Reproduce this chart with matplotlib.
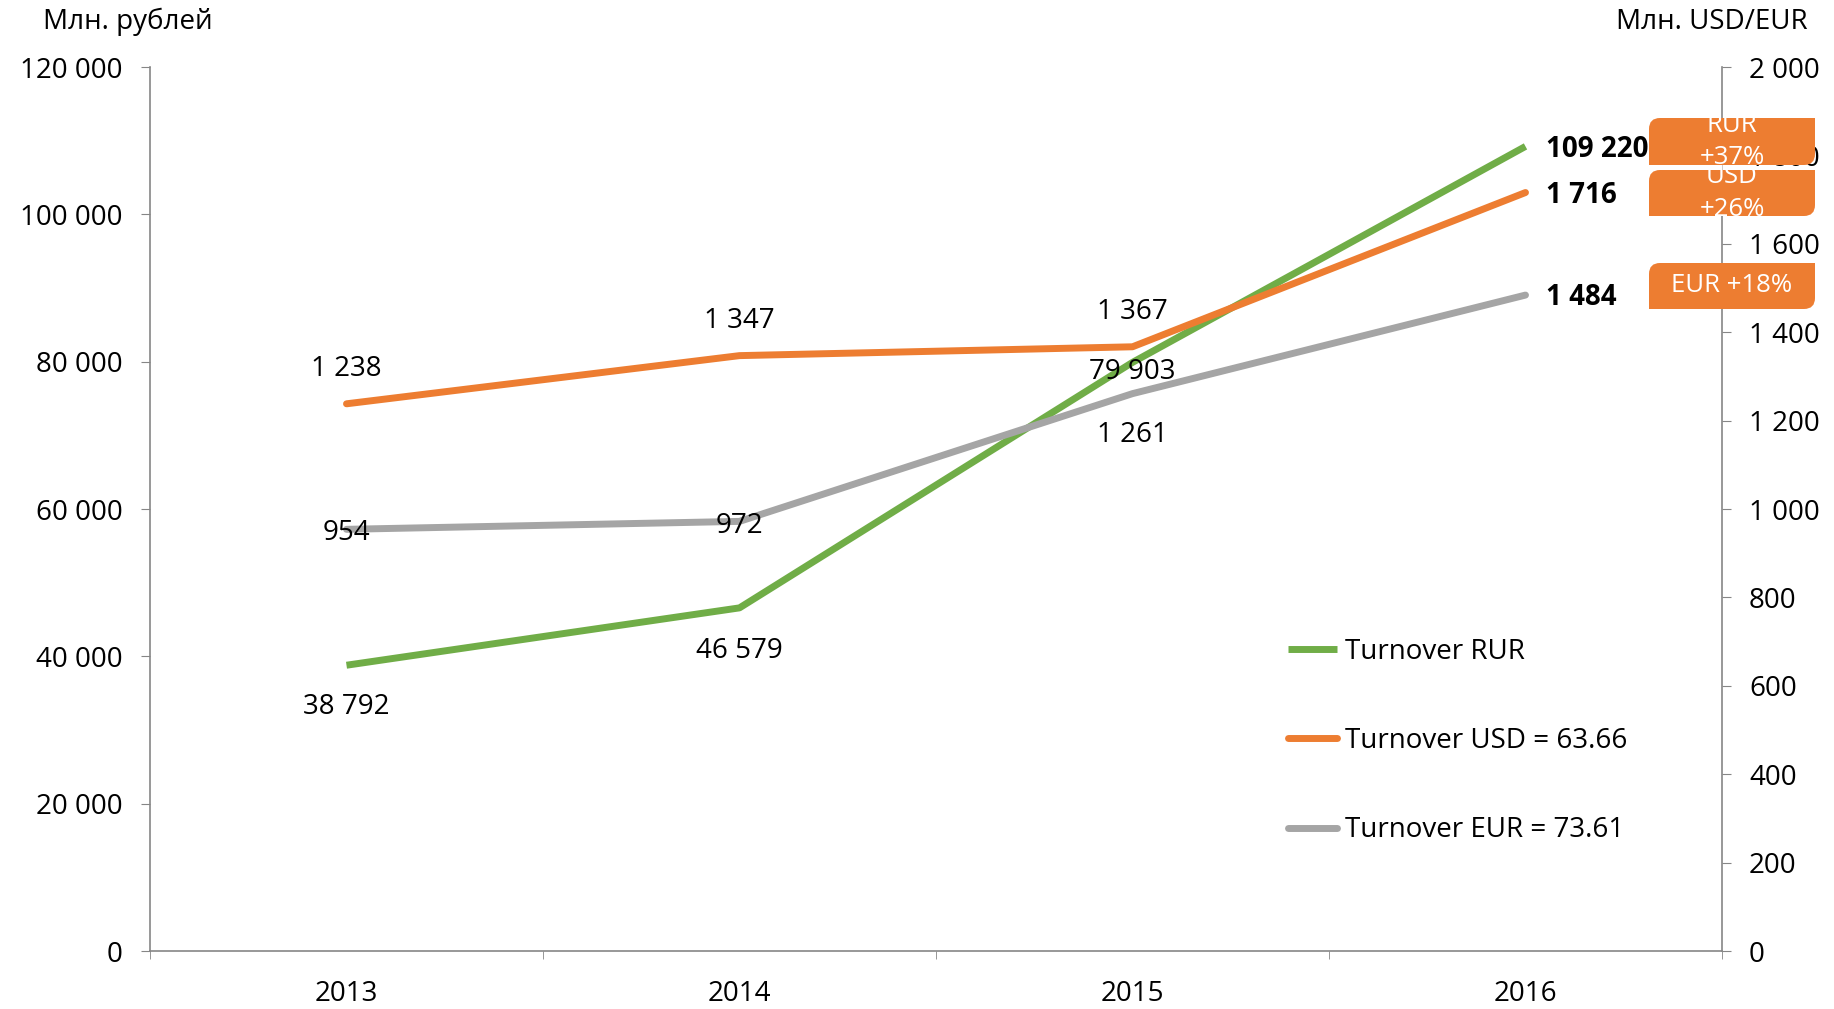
import matplotlib
matplotlib.use("Agg")
import matplotlib.pyplot as plt
from matplotlib.patches import FancyBboxPatch, Rectangle
from matplotlib.ticker import FuncFormatter, FixedLocator

# data
years = ["2013", "2014", "2015", "2016"]
turnover_rur = [38792, 46579, 79903, 109220]
turnover_usd = [1238, 1347, 1367, 1716]
turnover_eur = [954, 972, 1261, 1484]
legend_labels = ["Turnover RUR", "Turnover USD = 63.66", "Turnover EUR = 73.61"]
badges = [("RUR\n+37%", 118, 165), ("USD\n+26%", 170, 216), ("EUR +18%", 263, 309)]

GREEN, ORANGE, GRAY = "#70AD47", "#ED7D31", "#A5A5A5"
AXIS = "#868686"
W, H = 1834, 1009

plt.rcParams["font.family"] = ["Open Sans", "DejaVu Sans"]
FS = 20

def fmt(v, pos=None):
    return f"{int(round(v)):,}".replace(",", " ")

fig = plt.figure(figsize=(W / 100, H / 100), dpi=100)
ax = fig.add_axes([150 / W, 1 - 951 / H, (1722 - 150) / W, (951 - 67) / H])
ax2 = ax.twinx()

x = list(range(len(years)))
l1, = ax.plot(x, turnover_rur, color=GREEN, lw=5, solid_capstyle="butt")
l2, = ax2.plot(x, turnover_usd, color=ORANGE, lw=5, solid_capstyle="round")
l3, = ax2.plot(x, turnover_eur, color=GRAY, lw=5, solid_capstyle="round")

ax.set_xlim(-0.5, 3.5)
ax.set_ylim(0, 120000)
ax2.set_ylim(0, 2000)
ax.yaxis.set_major_locator(FixedLocator(range(0, 120001, 20000)))
ax2.yaxis.set_major_locator(FixedLocator(range(0, 2001, 200)))
ax.yaxis.set_major_formatter(FuncFormatter(fmt))
ax2.yaxis.set_major_formatter(FuncFormatter(fmt))

ax.set_xticks(x)
ax.set_xticklabels(years)
ax.set_xticks([-0.5, 0.5, 1.5, 2.5, 3.5], minor=True)
ax.tick_params(axis="x", which="major", length=0, pad=21, labelsize=FS)
ax.tick_params(axis="x", which="minor", length=6, color=AXIS)
ax.tick_params(axis="y", length=6.5, color=AXIS, pad=13, labelsize=FS)
ax2.tick_params(axis="y", length=6.5, color=AXIS, pad=13, labelsize=FS)

for a in (ax, ax2):
    for s in a.spines.values():
        s.set_color(AXIS)
        s.set_linewidth(1.2)
    a.spines["top"].set_visible(False)
ax.spines["right"].set_visible(False)
ax2.spines["left"].set_visible(False)
ax2.spines["bottom"].set_visible(False)

# data labels: vertical offset in points, or "right" for the bold end labels
def label(a, xs, ys, offs):
    for xi, yi, off in zip(xs, ys, offs):
        if off == "right":
            a.annotate(fmt(yi), (xi, yi), xytext=(15, -2), textcoords="offset points",
                       ha="left", va="center", fontsize=FS, fontweight="bold")
        else:
            a.annotate(fmt(yi), (xi, yi), xytext=(0, off), textcoords="offset points",
                       ha="center", va="center", fontsize=FS)

label(ax, x, turnover_rur, [-30, -31, -7, "right"])
label(ax2, x, turnover_usd, [25, 25, 25, "right"])
label(ax2, x, turnover_eur, [-3, -3, -30, "right"])

fig.text(43 / W, 1 - 22 / H, "Млн. рублей", fontsize=FS, ha="left", va="center")
fig.text(1808 / W, 1 - 22 / H, "Млн. USD/EUR", fontsize=FS, ha="right", va="center")

ax2.legend([l1, l2, l3], legend_labels, loc="upper left", frameon=False,
           bbox_to_anchor=(1288 / W, 1 - 638 / H), bbox_transform=fig.transFigure,
           fontsize=FS, handlelength=1.75, handletextpad=0.3, labelspacing=2.2,
           borderpad=0, borderaxespad=0)

# orange badges with rounded diagonal corners
bx0, bx1 = 1649, 1815
r = 11
for text, y0, y1 in badges:
    fx0, fx1 = bx0 / W, bx1 / W
    fy0, fy1 = 1 - y1 / H, 1 - y0 / H
    box = FancyBboxPatch((fx0 + r / W, fy0 + r / H), fx1 - fx0 - 2 * r / W, fy1 - fy0 - 2 * r / H,
                         boxstyle=f"round,pad={r / W}", mutation_aspect=W / H,
                         transform=fig.transFigure, fc=ORANGE, ec="none", zorder=5)
    fig.patches.append(box)
    for cx, cy in ((fx1 - r / W, fy1 - r / H), (fx0, fy0)):
        fig.patches.append(Rectangle((cx, cy), r / W, r / H, transform=fig.transFigure,
                                     fc=ORANGE, ec="none", zorder=5))
    t = fig.text((fx0 + fx1) / 2, (fy0 + fy1) / 2, text, color="white", fontsize=18.5,
                 ha="center", va="center", linespacing=1.42, zorder=6)
    t.set_clip_path(box)

fig.savefig("out.png", dpi=100)
